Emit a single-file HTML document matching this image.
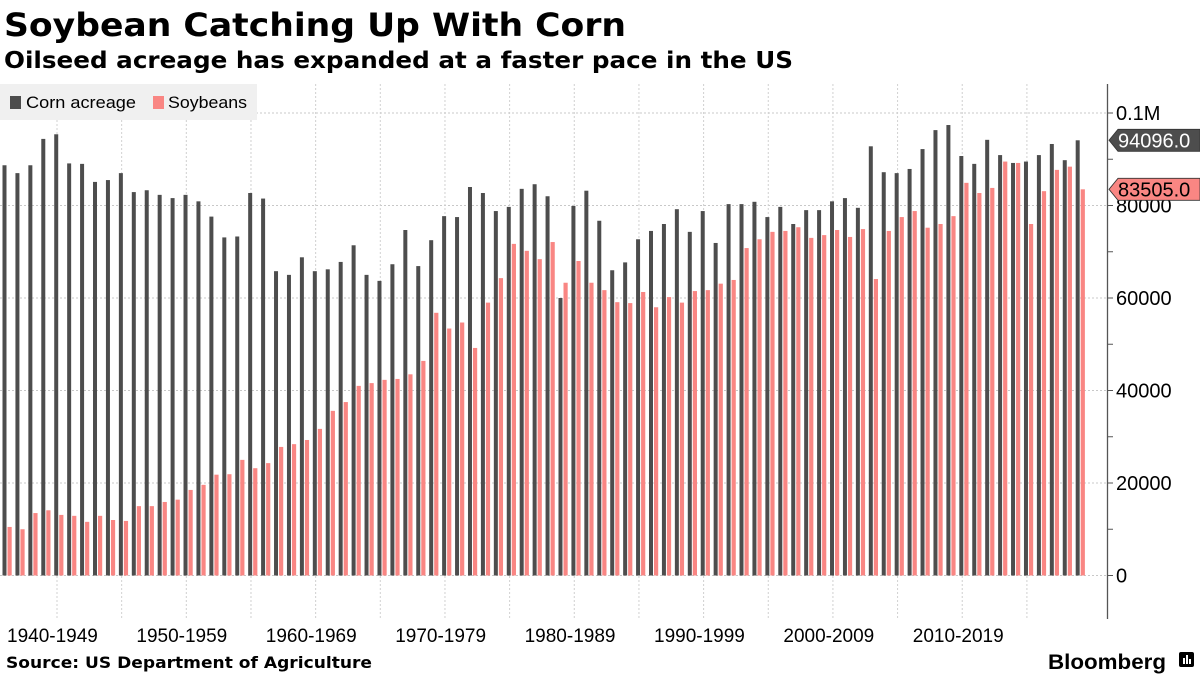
<!DOCTYPE html>
<html><head><meta charset="utf-8"><style>
body{margin:0;background:#fff;width:1200px;height:675px;overflow:hidden;font-family:"Liberation Sans","DejaVu Sans",sans-serif}
svg{display:block}
</style></head><body>
<svg id="chart" width="1200" height="675" xmlns="http://www.w3.org/2000/svg">
<text x="4" y="36" font-size="32" font-weight="bold" fill="#000" font-family="DejaVu Sans, sans-serif" textLength="622" lengthAdjust="spacingAndGlyphs">Soybean Catching Up With Corn</text>
<text x="4" y="68" font-size="23" font-weight="bold" fill="#000" font-family="DejaVu Sans, sans-serif" textLength="789" lengthAdjust="spacingAndGlyphs">Oilseed acreage has expanded at a faster pace in the US</text>
<g id="grid"></g>
<g id="bars"></g>
<g id="axis"></g>
<g id="xlabels"></g>
<g>
<rect x="0" y="84" width="257" height="36" fill="#f0f0f0"/>
<rect x="10" y="96" width="11" height="13" fill="#4d4d4d"/>
<text x="26" y="108" font-size="17" fill="#000" textLength="110" lengthAdjust="spacingAndGlyphs">Corn acreage</text>
<rect x="153" y="96" width="11" height="13" fill="#f98683"/>
<text x="168" y="108" font-size="17" fill="#000" textLength="79" lengthAdjust="spacingAndGlyphs">Soybeans</text>
</g>
<text x="6" y="668" font-size="16" font-weight="bold" fill="#000" font-family="DejaVu Sans, sans-serif" textLength="366" lengthAdjust="spacingAndGlyphs">Source: US Department of Agriculture</text>
<text x="1048" y="669" font-size="21" font-weight="bold" fill="#000" textLength="118" lengthAdjust="spacingAndGlyphs">Bloomberg</text>
<g><rect x="1179" y="652" width="15" height="15" rx="2" fill="#000"/><rect x="1183" y="658" width="2" height="6" fill="#fff"/><rect x="1186" y="655" width="2" height="9" fill="#fff"/><rect x="1189" y="659" width="2" height="5" fill="#fff"/></g>
</svg>
<script>
const years = [];
for (let y = 1940; y <= 2023; y++) years.push(y);
const corn = [88.7,87.0,88.7,94.4,95.4,89.1,89.0,85.1,85.5,87.0,82.9,83.3,82.3,81.6,82.3,80.9,77.6,73.1,73.3,82.7,81.5,65.8,65.0,68.8,65.8,66.2,67.8,71.4,65.0,63.7,67.3,
74.7,66.9,72.5,77.7,77.5,84.0,82.7,78.8,79.7,83.6,84.6,82.0,60.0,79.9,83.2,76.7,66.0,67.7,72.7,74.5,76.0,79.2,74.3,78.8,71.9,80.3,80.3,80.8,77.5,79.7,
76.0,79.0,79.0,80.9,81.6,79.5,92.8,87.2,87.0,87.9,92.2,96.3,97.4,90.7,89.0,94.2,90.9,89.2,89.5,90.9,93.3,89.8,94.1];
const soy = [10.5,10.0,13.5,14.1,13.1,12.9,11.6,12.9,12.0,11.8,15.0,15.0,15.9,16.4,18.5,19.6,21.8,21.9,25.0,23.2,24.3,27.8,28.4,29.3,31.7,35.6,37.5,41.0,41.6,42.3,42.5,
43.5,46.4,56.8,53.4,54.7,49.2,59.0,64.3,71.7,70.2,68.4,72.1,63.3,68.0,63.3,61.7,59.1,58.9,61.3,58.0,60.2,59.0,61.5,61.7,63.1,63.9,70.8,72.7,74.3,
74.5,75.3,73.0,73.6,74.7,73.2,74.9,64.1,74.5,77.5,78.8,75.2,76.0,77.7,84.9,82.7,83.8,89.5,89.2,76.0,83.1,87.7,88.4,83.5];
const yTicks = [0,20000,40000,60000,80000,100000];
const yTickLabels = ["0","20000","40000","60000","80000","0.1M"];
const decadeLabels = ["1940-1949","1950-1959","1960-1969","1970-1979","1980-1989","1990-1999","2000-2009","2010-2019"];
const lastCornLabel = "94096.0", lastSoyLabel = "83505.0";

const NS = "http://www.w3.org/2000/svg";
const Y0 = 575.5, PXK = 4.625;
function yScale(v){ return Y0 - v/1000*PXK; }
function xScale(i){ return 2.5 + i*12.93; }
function mk(tag, attrs, parent){ const e=document.createElementNS(NS,tag); for(const k in attrs) e.setAttribute(k,attrs[k]); parent.appendChild(e); return e; }
const grid=document.getElementById('grid'), bars=document.getElementById('bars'), axis=document.getElementById('axis'), xl=document.getElementById('xlabels');

yTicks.forEach(t=>{
  const l=mk('line',{x1:0,x2:1107,y1:yScale(t),y2:yScale(t),stroke:'#c8c8c8','stroke-dasharray':'2,2','stroke-width':1},grid);
  
  
});
for(let k=0;k<16;k++){
  const x=57+k*64.66;
  const l=mk('line',{x1:x,x2:x,y1:84,y2:618,stroke:'#d0d0d0','stroke-dasharray':'2,2','stroke-width':1},grid);
  
  
}
years.forEach((yr,i)=>{
  const x=xScale(i);
  const c=mk('rect',{x:x,y:yScale(corn[i]*1000),width:4,height:Y0-yScale(corn[i]*1000),fill:'#4d4d4d'},bars);
  
  
  const s=mk('rect',{x:x+5,y:yScale(soy[i]*1000),width:4.2,height:Y0-yScale(soy[i]*1000),fill:'#f98683'},bars);
  
  
});
mk('line',{x1:1107.5,x2:1107.5,y1:84,y2:619,stroke:'#555','stroke-width':1.3},axis);
for(let v=0; v<=100000; v+=10000){
  mk('line',{x1:1107,x2:1113,y1:yScale(v),y2:yScale(v),stroke:'#555','stroke-width':1},axis);
}
yTicks.forEach((t,i)=>{
  const tx=mk('text',{x:1116,y:yScale(t)+7,'font-size':20,fill:'#000'},axis);
  tx.textContent=yTickLabels[i];
  
  
});
function valueTag(v,label,fill,txtFill,name){
  const y=yScale(v);
  const g=mk('g',{},axis);
  
  
  mk('path',{d:`M1109 ${y} L1118 ${y-11} L1200 ${y-11} L1200 ${y+11} L1118 ${y+11} Z`,fill:fill,stroke:'#333','stroke-width':0.8},g);
  const t=mk('text',{x:1118,y:y+7,'font-size':20,fill:txtFill},g);
  t.textContent=label;
}
valueTag(corn[corn.length-1]*1000,lastCornLabel,'#4d4d4d','#fff','last-value-corn');
valueTag(soy[soy.length-1]*1000,lastSoyLabel,'#f98683','#000','last-value-soybeans');
decadeLabels.forEach((d,i)=>{
  const t=mk('text',{x:7+i*129.4,y:642,'font-size':19,fill:'#000'},xl);
  t.textContent=d;
  
  
});
</script>
</body></html>
